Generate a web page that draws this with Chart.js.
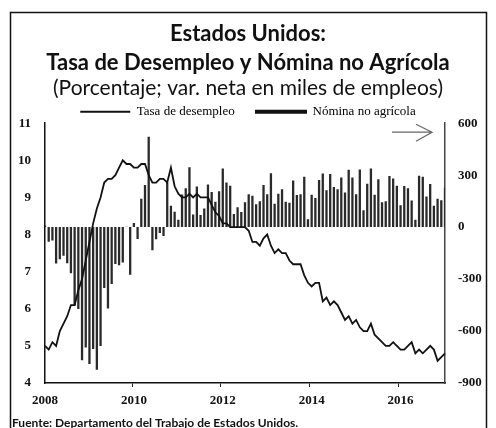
<!DOCTYPE html>
<html>
<head>
<meta charset="utf-8">
<script src="https://cdn.jsdelivr.net/npm/chart.js@4.4.0/dist/chart.umd.min.js"></script>
<style>
  html, body { margin: 0; padding: 0; background: #fff; }
</style>
</head>
<body>
<canvas id="empleoChart" width="496" height="428"></canvas>
<script>
// meses de ene-2008 a ene-2017
const anios = [2008, 2009, 2010, 2011, 2012, 2013, 2014, 2015, 2016, 2017];
const meses = [];
anios.forEach(a => {
  for (let m = 1; m <= 12; m++) {
    if (a === 2017 && m > 1) break;
    meses.push(a + '-' + String(m).padStart(2, '0'));
  }
});
const etiquetasAnio = ['2008', '2010', '2012', '2014', '2016'];

// tasa de desempleo, %
const tasaDesempleo = [
  5.0, 4.9, 5.1, 5.0, 5.4, 5.6, 5.8, 6.1, 6.1, 6.5, 6.8, 7.3,
  7.8, 8.3, 8.7, 9.0, 9.4, 9.5, 9.5, 9.6, 9.8, 10.0, 9.9, 9.9,
  9.8, 9.8, 9.9, 9.9, 9.6, 9.4, 9.4, 9.5, 9.5, 9.4, 9.8, 9.3,
  9.1, 9.0, 9.0, 9.1, 9.0, 9.1, 9.0, 9.0, 9.0, 8.8, 8.6, 8.5,
  8.3, 8.3, 8.2, 8.2, 8.2, 8.2, 8.2, 8.1, 7.8, 7.8, 7.7, 7.9,
  8.0, 7.7, 7.5, 7.6, 7.5, 7.5, 7.3, 7.2, 7.2, 7.2, 6.9, 6.7,
  6.6, 6.7, 6.7, 6.2, 6.3, 6.1, 6.2, 6.1, 5.9, 5.7, 5.8, 5.6,
  5.7, 5.5, 5.4, 5.4, 5.6, 5.3, 5.2, 5.1, 5.0, 5.0, 5.1, 5.0,
  4.9, 4.9, 5.0, 5.1, 4.8, 4.9, 4.8, 4.9, 5.0, 4.9, 4.6, 4.7,
  4.8
];

// nomina no agricola, var. neta en miles
const nominaNoAgricola = [
  10, -84, -78, -210, -185, -165, -209, -266, -452, -473, -769, -695,
  -791, -703, -823, -686, -351, -470, -329, -213, -220, -204, 2, -275,
  23, -68, 164, 243, 522, -133, -70, -34, -52, 257, 123, 88,
  42, 188, 225, 346, 73, 235, 70, 107, 246, 202, 146, 207,
  338, 257, 239, 75, 115, 87, 143, 190, 181, 132, 149, 243,
  190, 311, 135, 192, 218, 146, 140, 269, 185, 189, 291, 45,
  187, 168, 272, 310, 213, 306, 232, 218, 286, 200, 331, 286,
  190, 332, 98, 251, 339, 187, 277, 143, 150, 295, 280, 239,
  126, 237, 225, 153, 43, 297, 291, 176, 249, 124, 164, 155,
  227
];

const tickFont = { family: 'Liberation Serif', size: 13, weight: 'bold' };

const marco = {
  id: 'marco',
  afterDraw(chart) {
    const { ctx, chartArea } = chart;
    ctx.save();
    ctx.strokeStyle = '#111';
    ctx.lineWidth = 1.5;
    ctx.strokeRect(10.5, 12.5, 476, 440);

    // flecha hacia el eje derecho
    const ay = chartArea.top + 9;
    const ax = chartArea.right - 13;
    ctx.strokeStyle = '#666';
    ctx.lineWidth = 1.2;
    ctx.beginPath();
    ctx.moveTo(ax - 40, ay);
    ctx.lineTo(ax, ay);
    ctx.moveTo(ax - 16, ay - 8);
    ctx.lineTo(ax, ay);
    ctx.lineTo(ax - 16, ay + 9);
    ctx.stroke();

    ctx.fillStyle = '#111';
    ctx.font = 'bold 12px Lato';
    ctx.textBaseline = 'middle';
    ctx.fillText('Fuente: Departamento del Trabajo de Estados Unidos.', 12, 423);
    ctx.restore();
  }
};

const ctx = document.getElementById('empleoChart');
new Chart(ctx, {
  data: {
    labels: meses,
    datasets: [{
      type: 'line',
      label: 'Tasa de desempleo',
      data: tasaDesempleo,
      yAxisID: 'y',
      borderColor: '#111',
      borderWidth: 1.8,
      pointRadius: 0,
      tension: 0,
      order: 0
    }, {
      type: 'bar',
      label: 'Nómina no agrícola',
      data: nominaNoAgricola,
      yAxisID: 'y1',
      backgroundColor: '#2a2a2a',
      barPercentage: 0.62,
      categoryPercentage: 1,
      order: 1
    }]
  },
  options: {
    responsive: false,
    animation: false,
    devicePixelRatio: 1,
    layout: { padding: { left: 10, right: 10, top: 0, bottom: 0 } },
    plugins: {
      title: {
        display: true,
        text: ['Estados Unidos:', 'Tasa de Desempleo y Nómina no Agrícola'],
        color: '#111',
        font: { family: 'Lato', size: 22, weight: 'bold', lineHeight: 1.32 },
        padding: { top: 19, bottom: 0 }
      },
      subtitle: {
        display: true,
        text: '(Porcentaje; var. neta en miles de empleos)',
        color: '#111',
        font: { family: 'Lato', size: 21, lineHeight: 1.1 },
        padding: { top: 0, bottom: 0 }
      },
      legend: {
        maxHeight: 23,
        labels: {
          font: { family: 'Liberation Serif', size: 13 },
          color: '#111',
          boxWidth: 50,
          boxHeight: 2,
          padding: 5,
          generateLabels: chart => chart.data.datasets.map((ds, i) => ({
            text: i === 0 ? ds.label + '     ' : ds.label,
            fillStyle: '#111',
            strokeStyle: '#111',
            lineWidth: i === 1 ? 2 : 0,
            hidden: false,
            datasetIndex: i
          }))
        }
      },
      tooltip: { enabled: false }
    },
    scales: {
      x: {
        offset: false,
        afterFit: s => { s.height = 45; },
        grid: {
          drawOnChartArea: false,
          tickLength: 4,
          color: c => (c.tick && c.tick.label) ? '#222' : 'rgba(0,0,0,0)'
        },
        border: { color: '#111', width: 1.5 },
        ticks: {
          autoSkip: false,
          maxRotation: 0,
          padding: 6,
          color: '#111',
          font: tickFont,
          callback: function (v) {
            const lab = this.getLabelForValue(v);
            const [a, m] = lab.split('-');
            return (m === '01' && etiquetasAnio.includes(a)) ? a : '';
          }
        }
      },
      y: {
        position: 'left',
        min: 4,
        max: 11,
        afterFit: s => { s.width = 35; },
        grid: { display: false },
        border: { color: '#111', width: 1.5 },
        ticks: { stepSize: 1, padding: 6, color: '#111', font: tickFont }
      },
      y1: {
        position: 'right',
        min: -900,
        max: 600,
        afterFit: s => { s.width = 41; },
        grid: { display: false },
        border: { color: '#444', width: 1.5 },
        ticks: { stepSize: 300, padding: 5, color: '#111', font: tickFont }
      }
    }
  },
  plugins: [marco]
});
</script>
</body>
</html>
